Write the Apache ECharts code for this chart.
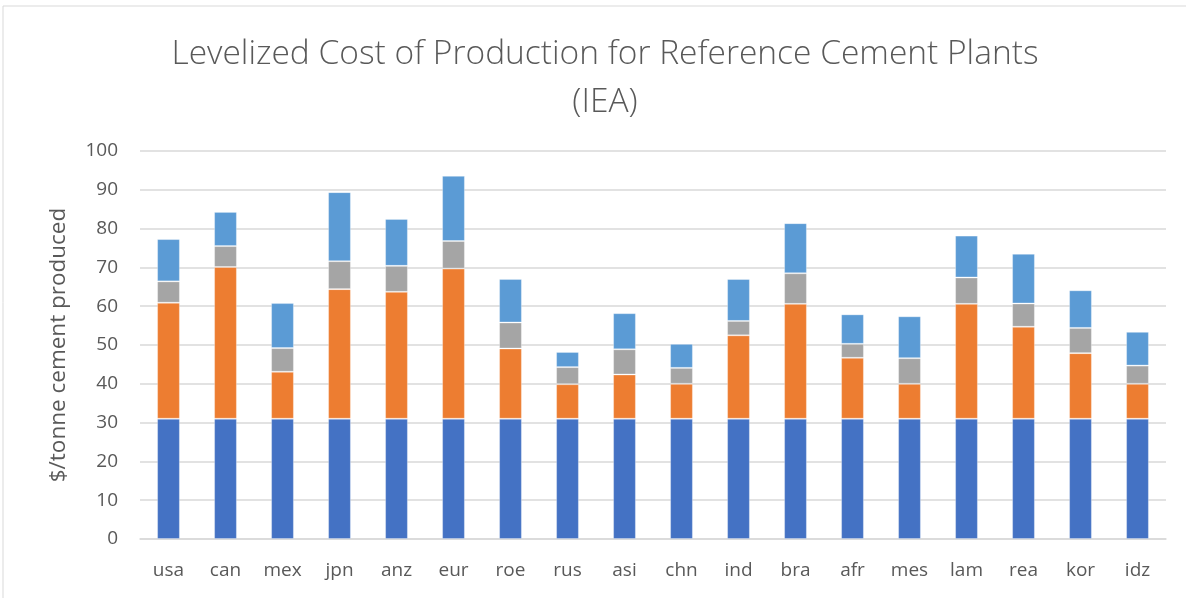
<!DOCTYPE html>
<html><head><meta charset="utf-8">
<script src="https://cdn.jsdelivr.net/npm/echarts@6/dist/echarts.min.js"></script>
<style>html,body{margin:0;padding:0;background:#fff}#c{width:1186px;height:598px}</style>
</head><body><div id="c"></div>
<script>
const categories = ['usa','can','mex','jpn','anz','eur','roe','rus','asi','chn','ind','bra','afr','mes','lam','rea','kor','idz'];
const seriesA = [31,31,31,31,31,31,31,31,31,31,31,31,31,31,31,31,31,31];
const seriesB = [29.9,39.1,12.1,33.4,32.7,38.7,18.1,8.9,11.4,9.0,21.5,29.6,15.7,9.0,29.6,23.7,16.9,9.0];
const seriesC = [5.5,5.4,6.1,7.2,6.7,7.1,6.7,4.4,6.5,4.1,3.7,7.9,3.6,6.6,6.8,6.0,6.5,4.7];
const seriesD = [10.9,8.8,11.6,17.8,12.1,16.8,11.2,3.9,9.3,6.2,10.8,12.9,7.6,10.8,10.8,12.8,9.7,8.7];
const yTicks = [0,10,20,30,40,50,60,70,80,90,100];

const chart = echarts.init(document.getElementById('c'), null, {renderer:'canvas'});
const font = '"Open Sans", "Noto Sans", sans-serif';
const colors = ['#4472C4','#ED7D31','#A5A5A5','#5B9BD5'];
const mk = (name, data, i) => ({
  name, type:'bar', stack:'total', data, barCategoryGap:'60%',
  itemStyle:{color:colors[i], borderColor:'rgba(255,255,255,0.3)', borderWidth:1},
  emphasis:{disabled:true}
});
chart.setOption({
  animation:false,
  textStyle:{fontFamily:font},
  title:{
    text:'Levelized Cost of Production for Reference Cement Plants\n(IEA)',
    left:600, top:25, textAlign:'center',
    textStyle:{fontFamily:font, fontSize:33.5, fontWeight:300, color:'#595959', lineHeight:48}
  },
  graphic:[{type:'rect', shape:{x:3,y:6,width:1200,height:600}, style:{fill:'none', stroke:'#d9d9d9', lineWidth:1}, silent:true}],
  grid:{left:140, right:20, top:151, bottom:59},
  xAxis:{
    type:'category', data:categories,
    axisLine:{show:true, lineStyle:{color:'#d9d9d9', width:1.5}},
    axisTick:{show:false},
    axisLabel:{color:'#595959', fontSize:19, margin:22, fontFamily:font}
  },
  yAxis:{
    type:'value', min:0, max:100, interval:10,
    name:'$/tonne cement produced', nameLocation:'middle', nameGap:70,
    nameTextStyle:{color:'#595959', fontSize:22.5, fontFamily:font},
    axisLabel:{color:'#595959', fontSize:19, margin:22, fontFamily:font,
      formatter:v=> yTicks.includes(v) ? String(v) : ''},
    splitLine:{lineStyle:{color:'#d9d9d9', width:1.5}},
    axisLine:{show:false}, axisTick:{show:false}
  },
  series:[mk('A',seriesA,0), mk('B',seriesB,1), mk('C',seriesC,2), mk('D',seriesD,3)]
});
</script></body></html>
